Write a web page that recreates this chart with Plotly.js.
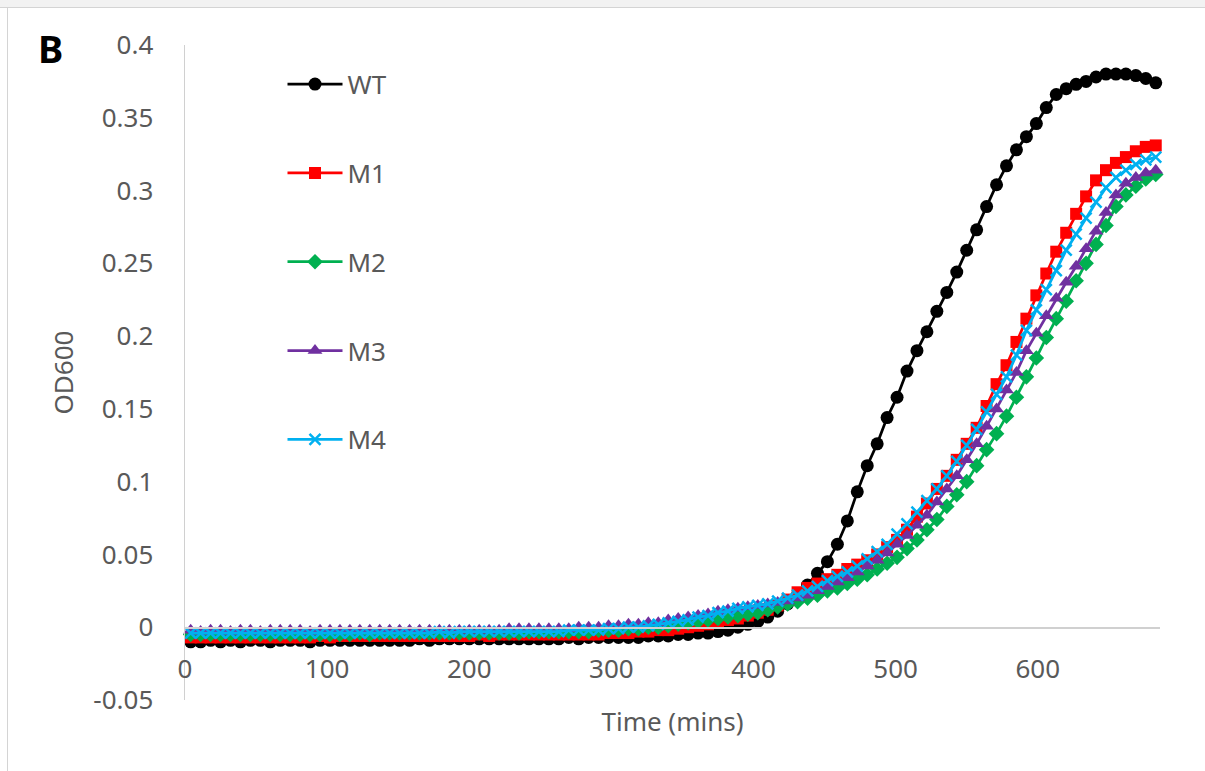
<!DOCTYPE html>
<html>
<head>
<meta charset="utf-8">
<script src="https://cdn.plot.ly/plotly-3.0.1.min.js"></script>
<style>
  html, body { margin: 0; padding: 0; background: #ffffff; }
  #wrap { position: relative; width: 1205px; height: 771px; overflow: hidden; }
  #topband { position: absolute; left: 0; top: 0; width: 1205px; height: 7px; background: #f2f2f2; border-bottom: 1px solid #d4d4d4; }
  #leftline { position: absolute; left: 7px; top: 8px; width: 1px; height: 763px; background: #d4d4d4; }
  #chart { position: absolute; left: 0; top: 0; width: 1205px; height: 771px; }
</style>
</head>
<body>
<div id="wrap">
  <div id="topband"></div>
  <div id="leftline"></div>
  <div id="chart"></div>
</div>
<script>
// Time points (mins)
const timeMins = [
  4, 11, 18, 25, 32, 39, 46, 53, 60, 67,
  74, 81, 88, 95, 102, 109, 116, 123, 130, 137,
  144, 151, 158, 165, 172, 179, 186, 193, 200, 207,
  214, 221, 228, 235, 242, 249, 256, 263, 270, 277,
  284, 291, 298, 305, 312, 319, 326, 333, 340, 347,
  354, 361, 368, 375, 382, 389, 396, 403, 410, 417,
  424, 431, 438, 445, 452, 459, 466, 473, 480, 487,
  494, 501, 508, 515, 522, 529, 536, 543, 550, 557,
  564, 571, 578, 585, 592, 599, 606, 613, 620, 627,
  634, 641, 648, 655, 662, 669, 676, 683
];

const seriesNames = ["WT", "M1", "M2", "M3", "M4"];

const odWT = [
  -0.010, -0.010, -0.009, -0.010, -0.009, -0.010, -0.009, -0.009, -0.010, -0.009,
  -0.009, -0.009, -0.010, -0.009, -0.009, -0.009, -0.009, -0.009, -0.009, -0.009,
  -0.009, -0.009, -0.009, -0.008, -0.009, -0.008, -0.008, -0.008, -0.008, -0.008,
  -0.008, -0.008, -0.008, -0.008, -0.008, -0.008, -0.008, -0.008, -0.007, -0.008,
  -0.007, -0.007, -0.007, -0.007, -0.007, -0.007, -0.006, -0.006, -0.006, -0.005,
  -0.005, -0.004, -0.004, -0.003, -0.002, 0.000, 0.002, 0.004, 0.007, 0.011,
  0.016, 0.022, 0.029, 0.037, 0.045, 0.057, 0.073, 0.093, 0.111, 0.126,
  0.144, 0.158, 0.176, 0.190, 0.203, 0.217, 0.230, 0.244, 0.259, 0.273,
  0.289, 0.304, 0.317, 0.328, 0.337, 0.346, 0.357, 0.366, 0.370, 0.373,
  0.375, 0.378, 0.380, 0.380, 0.380, 0.379, 0.377, 0.374
];

const odM1 = [
  -0.007, -0.007, -0.007, -0.007, -0.007, -0.007, -0.007, -0.007, -0.007, -0.007,
  -0.007, -0.007, -0.007, -0.006, -0.007, -0.006, -0.006, -0.006, -0.006, -0.006,
  -0.006, -0.006, -0.006, -0.006, -0.006, -0.006, -0.006, -0.006, -0.006, -0.005,
  -0.006, -0.005, -0.005, -0.005, -0.005, -0.005, -0.005, -0.005, -0.005, -0.005,
  -0.005, -0.005, -0.004, -0.004, -0.004, -0.003, -0.003, -0.002, -0.002, -0.001,
  0.000, 0.001, 0.002, 0.003, 0.005, 0.006, 0.008, 0.010, 0.012, 0.015,
  0.019, 0.024, 0.027, 0.030, 0.033, 0.036, 0.040, 0.043, 0.046, 0.050,
  0.055, 0.060, 0.067, 0.076, 0.085, 0.095, 0.104, 0.115, 0.126, 0.137,
  0.152, 0.167, 0.180, 0.196, 0.212, 0.228, 0.243, 0.258, 0.271, 0.284,
  0.296, 0.307, 0.314, 0.319, 0.323, 0.327, 0.330, 0.331
];

const odM2 = [
  -0.005, -0.005, -0.005, -0.005, -0.005, -0.005, -0.005, -0.005, -0.005, -0.005,
  -0.005, -0.005, -0.005, -0.005, -0.005, -0.005, -0.005, -0.004, -0.005, -0.004,
  -0.004, -0.004, -0.004, -0.004, -0.004, -0.004, -0.004, -0.004, -0.004, -0.004,
  -0.004, -0.004, -0.004, -0.004, -0.003, -0.003, -0.003, -0.003, -0.003, -0.003,
  -0.003, -0.002, -0.002, -0.002, -0.001, -0.001, 0.000, 0.000, 0.001, 0.002,
  0.003, 0.004, 0.005, 0.006, 0.007, 0.008, 0.009, 0.010, 0.012, 0.014,
  0.016, 0.0175, 0.020, 0.022, 0.025, 0.027, 0.030, 0.033, 0.036, 0.040,
  0.044, 0.048, 0.054, 0.060, 0.067, 0.074, 0.083, 0.091, 0.100, 0.111,
  0.122, 0.133, 0.145, 0.158, 0.172, 0.185, 0.199, 0.212, 0.224, 0.238,
  0.250, 0.263, 0.276, 0.289, 0.297, 0.303, 0.308, 0.311
];

const odM3 = [
  -0.002, -0.003, -0.002, -0.002, -0.003, -0.002, -0.002, -0.003, -0.002, -0.002,
  -0.002, -0.002, -0.003, -0.002, -0.002, -0.002, -0.002, -0.002, -0.002, -0.002,
  -0.002, -0.002, -0.002, -0.002, -0.002, -0.002, -0.002, -0.002, -0.002, -0.002,
  -0.002, -0.002, -0.001, -0.001, -0.001, -0.001, -0.001, -0.001, -0.001, 0.000,
  0.000, 0.000, 0.001, 0.001, 0.002, 0.002, 0.003, 0.003, 0.005, 0.006,
  0.007, 0.008, 0.009, 0.011, 0.012, 0.013, 0.014, 0.015, 0.016, 0.017,
  0.018, 0.020, 0.022, 0.025, 0.028, 0.031, 0.034, 0.038, 0.042, 0.046,
  0.051, 0.057, 0.063, 0.070, 0.077, 0.086, 0.095, 0.104, 0.115, 0.126,
  0.138, 0.150, 0.163, 0.175, 0.190, 0.202, 0.214, 0.226, 0.237, 0.248,
  0.260, 0.272, 0.285, 0.297, 0.305, 0.309, 0.312, 0.314
];

const odM4 = [
  -0.004, -0.004, -0.004, -0.004, -0.004, -0.004, -0.004, -0.004, -0.004, -0.004,
  -0.004, -0.004, -0.004, -0.004, -0.004, -0.004, -0.004, -0.004, -0.004, -0.004,
  -0.004, -0.004, -0.004, -0.004, -0.004, -0.003, -0.004, -0.003, -0.003, -0.003,
  -0.003, -0.003, -0.003, -0.003, -0.003, -0.003, -0.003, -0.003, -0.002, -0.002,
  -0.002, -0.002, -0.001, -0.001, 0.000, 0.000, 0.001, 0.002, 0.003, 0.004,
  0.005, 0.007, 0.008, 0.010, 0.011, 0.013, 0.014, 0.015, 0.016, 0.018,
  0.020, 0.022, 0.025, 0.028, 0.032, 0.035, 0.038, 0.042, 0.047, 0.052,
  0.057, 0.064, 0.071, 0.079, 0.087, 0.095, 0.104, 0.114, 0.125, 0.136,
  0.148, 0.160, 0.172, 0.187, 0.204, 0.218, 0.232, 0.245, 0.259, 0.270,
  0.281, 0.292, 0.302, 0.309, 0.314, 0.318, 0.321, 0.323
];

const yTickVals = [-0.05, 0, 0.05, 0.1, 0.15, 0.2, 0.25, 0.3, 0.35, 0.4];
const yTickText = ["-0.05", "0", "0.05", "0.1", "0.15", "0.2", "0.25", "0.3", "0.35", "0.4"];
const xTickVals = [0, 100, 200, 300, 400, 500, 600];
const xTickText = ["0", "100", "200", "300", "400", "500", "600"];

const seriesValues = [odWT, odM1, odM2, odM3, odM4];
const seriesColors = ["#000000", "#FF0000", "#00B050", "#7030A0", "#00B0F0"];
const seriesSymbols = ["circle", "square", "diamond", "triangle-up", "x-thin"];
const seriesSizes = [13, 12, 12, 13, 11];

const traces = seriesNames.map((name, i) => ({
  type: "scatter",
  mode: "lines+markers",
  name: name,
  legendgroup: "g" + i,
  x: timeMins,
  y: seriesValues[i],
  line: { color: seriesColors[i], width: 2.75 },
  marker: {
    symbol: seriesSymbols[i],
    size: seriesSizes[i],
    color: seriesColors[i],
    line: { color: seriesColors[i], width: i === 4 ? 2.5 : 0 }
  },
  cliponaxis: false
}));

const fontFam = "'Noto Sans', 'Open Sans', sans-serif";
const grey = "#595959";

const layout = {
  width: 1205,
  height: 771,
  margin: { l: 185, r: 45, t: 45, b: 71, autoexpand: false },
  paper_bgcolor: "rgba(0,0,0,0)",
  plot_bgcolor: "rgba(0,0,0,0)",
  showlegend: true,
  legend: {
    x: 0.1, y: 0.976, xanchor: "left", yanchor: "top",
    bgcolor: "rgba(0,0,0,0)",
    font: { family: fontFam, size: 26, color: grey },
    tracegroupgap: 52,
    itemwidth: 55,
    traceorder: "grouped"
  },
  xaxis: {
    range: [0, 686],
    tickvals: xTickVals,
    ticktext: xTickText,
    ticks: "",
    showgrid: false,
    zeroline: false,
    showline: true,
    linecolor: "#d0d0d0",
    linewidth: 1.5,
    anchor: "free",
    position: 0.05 / 0.45,
    tickfont: { family: fontFam, size: 26, color: grey },
    ticklabelstandoff: 18,
    title: { text: "Time (mins)", font: { family: fontFam, size: 26, color: grey }, standoff: 28 },
    automargin: false
  },
  yaxis: {
    range: [-0.05, 0.4],
    tickvals: yTickVals,
    ticktext: yTickText,
    ticks: "",
    showgrid: false,
    zeroline: false,
    showline: true,
    linecolor: "#d0d0d0",
    linewidth: 1.5,
    tickfont: { family: fontFam, size: 26, color: grey },
    ticklabelstandoff: 25,
    title: { text: "OD600", font: { family: fontFam, size: 26, color: grey }, standoff: 12 },
    automargin: false
  },
  annotations: [{
    text: "<b>B</b>",
    xref: "paper", yref: "paper",
    x: (50 - 185) / 975, y: (700 - 48) / 655,
    xanchor: "center", yanchor: "middle",
    showarrow: false,
    font: { family: fontFam, size: 38, color: "#000000" }
  }]
};

Plotly.newPlot("chart", traces, layout, { displayModeBar: false, staticPlot: true });
</script>
</body>
</html>
